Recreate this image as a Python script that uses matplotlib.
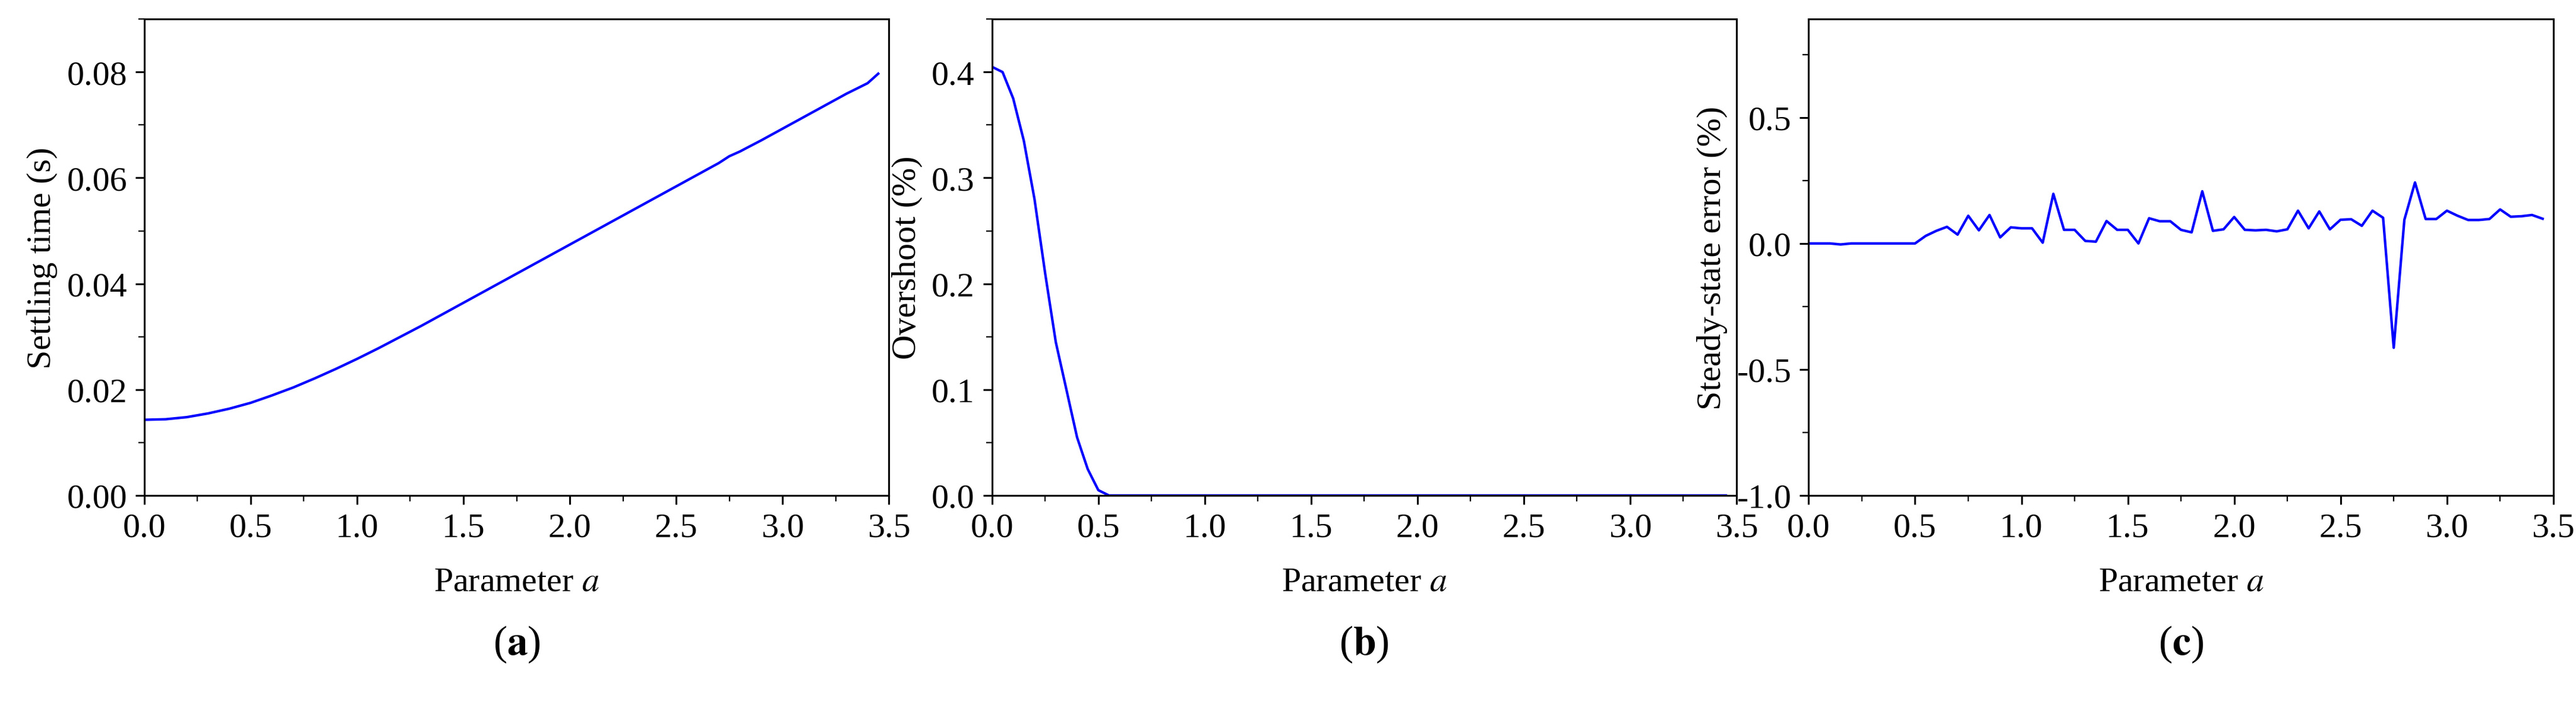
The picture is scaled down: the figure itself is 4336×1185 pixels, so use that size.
import matplotlib
matplotlib.use("Agg")
import matplotlib.pyplot as plt
import numpy as np
from matplotlib.ticker import AutoMinorLocator

plt.rcParams["font.family"] = ["Liberation Serif", "DejaVu Serif"]
plt.rcParams["mathtext.fontset"] = "stix"

# (a) settling time
a_x = [0.0, 0.1, 0.2, 0.3, 0.4, 0.5, 0.6, 0.7, 0.8, 0.9, 1.0, 1.1, 1.2, 1.3, 1.4,
       1.5, 1.6, 1.7, 1.8, 1.9, 2.0, 2.1, 2.2, 2.3, 2.4, 2.5, 2.6, 2.7, 2.75, 2.8,
       2.9, 3.0, 3.1, 3.2, 3.3, 3.4, 3.45]
settling = [0.0143, 0.0144, 0.0148, 0.0155, 0.0164, 0.0175, 0.0189, 0.0204, 0.0221,
            0.0239, 0.0258, 0.0278, 0.0299, 0.0320, 0.0342, 0.0364, 0.0386, 0.0408,
            0.0430, 0.0452, 0.0474, 0.0496, 0.0518, 0.0540, 0.0562, 0.0584, 0.0606,
            0.0628, 0.0641, 0.0650, 0.0671, 0.0693, 0.0715, 0.0737, 0.0759, 0.0779,
            0.0797]

# (b) overshoot
b_x = [0.0, 0.05, 0.1, 0.15, 0.2, 0.25, 0.3, 0.35, 0.4, 0.45, 0.5, 0.55, 3.45]
overshoot = [0.405, 0.400, 0.375, 0.335, 0.280, 0.210, 0.145, 0.100, 0.055, 0.025,
             0.005, 0.0, 0.0]

# (c) steady-state error, a = 0.00 ... 3.45 step 0.05
c_x = [round(0.05 * i, 2) for i in range(70)]
sse = [0, 0, 0, -0.004, 0, 0, 0, 0, 0, 0, 0,
       0.03, 0.05, 0.066, 0.035, 0.11, 0.052, 0.113, 0.024, 0.064, 0.06,
       0.06, 0.003, 0.197, 0.054, 0.054, 0.01, 0.007, 0.089, 0.054, 0.054,
       0.0, 0.1, 0.088, 0.088, 0.054, 0.044, 0.207, 0.05, 0.056, 0.105,
       0.054, 0.052, 0.054, 0.048, 0.056, 0.13, 0.06, 0.127, 0.056, 0.094,
       0.096, 0.07, 0.13, 0.102, -0.414, 0.094, 0.242, 0.097, 0.097, 0.13,
       0.11, 0.093, 0.093, 0.097, 0.135, 0.106, 0.108, 0.113, 0.098]

fig = plt.figure(figsize=(15.6, 4.266), dpi=278)
lefts = [0.056, 0.385, 0.702]
axes = [fig.add_axes([l, 0.296, 0.289, 0.676]) for l in lefts]

panels = [
    (a_x, settling, "Settling time (s)", (0, 0.09), np.arange(0, 0.081, 0.02), "{:.2f}", "a"),
    (b_x, overshoot, "Overshoot (%)", (0, 0.45), np.arange(0, 0.41, 0.1), "{:.1f}", "b"),
    (c_x, sse, "Steady-state error (%)", (-1.0, 0.89), np.arange(-1.0, 0.51, 0.5), "{:.1f}", "c"),
]

for ax, (x, y, ylabel, ylim, yt, fmt, tag) in zip(axes, panels):
    ax.plot(x, y, color="#0000ff", lw=1.1)
    ax.set_xlim(0, 3.5)
    ax.set_ylim(*ylim)
    ax.set_xticks(np.arange(0, 3.51, 0.5))
    ax.set_xticklabels([f"{v:.1f}" for v in np.arange(0, 3.51, 0.5)])
    ax.set_yticks(yt)
    ax.set_yticklabels([fmt.format(v) for v in yt])
    ax.xaxis.set_minor_locator(AutoMinorLocator(2))
    ax.yaxis.set_minor_locator(AutoMinorLocator(2))
    ax.tick_params(labelsize=15, direction="out", length=4)
    ax.tick_params(which="minor", length=2.5)
    ax.set_ylabel(ylabel, fontsize=15)
    ax.set_xlabel(r"Parameter $\it{a}$", fontsize=15, labelpad=10)
    pos = ax.get_position()
    fig.text(pos.x0 + pos.width / 2, 0.085, r"($\mathbf{" + tag + r"}$)",
             ha="center", va="center", fontsize=18)

fig.savefig("out.png", dpi=278)
